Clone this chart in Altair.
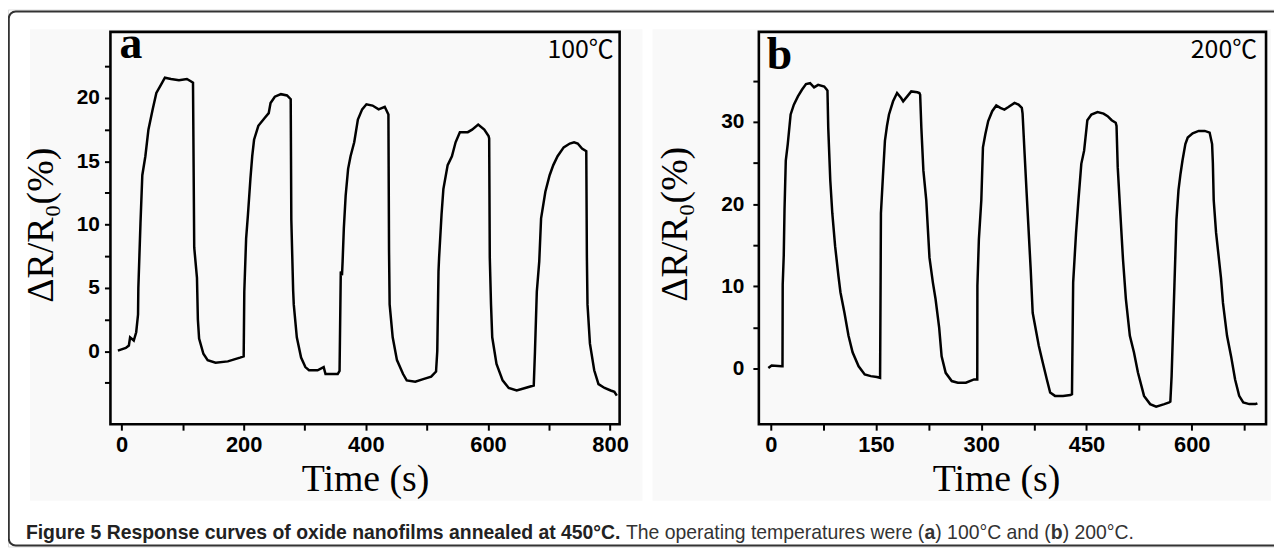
import altair as alt
import pandas as pd

# ---------------- data ----------------
# Panel a (100 C): time (s) and response (%)
a_time = [-6, 0, 7, 12, 14, 20, 24, 27, 27.5, 31, 34, 39, 44, 51, 57, 64, 71, 81, 94, 107, 114, 117,
          119, 123.5, 125, 127, 134, 141, 154, 174, 194, 200,
          201, 204, 207, 211, 214, 217, 224, 234, 241, 244, 251, 261, 271, 277,
          278, 281, 282, 287, 294, 301, 307, 321, 331, 334, 341, 354, 357,
          359, 361, 362, 364, 367, 371, 375, 381, 387, 394, 401, 411, 421, 431, 437,
          438, 439, 444, 451, 461, 467, 481, 494, 507, 515,
          517, 519, 520, 524, 527, 534, 541, 547, 554, 567, 574, 584, 594, 601, 602,
          603, 605, 607, 614, 624, 634, 647, 661, 675,
          677, 680, 684, 687, 694, 701, 707, 714, 724, 734, 741, 747, 754, 761,
          762, 763, 767, 774, 781, 791, 801, 807, 811]
a_resp = [0.05, 0.15, 0.26, 0.45, 1.1, 0.85, 1.5, 2.9, 5.0, 10.1, 13.9, 15.4, 17.5, 19.1, 20.4, 21.0, 21.6, 21.5, 21.4, 21.5, 21.3, 21.2,
          8.2, 5.8, 2.5, 1.0, -0.2, -0.7, -0.9, -0.8, -0.5, -0.4,
          4.7, 8.9, 10.8, 13.6, 15.4, 16.7, 17.8, 18.4, 18.8, 19.6, 20.1, 20.3, 20.2, 19.9,
          10.4, 4.8, 3.7, 1.1, -0.5, -1.25, -1.5, -1.5, -1.25, -1.8, -1.8, -1.8, -1.55,
          6.3, 6.0, 7.1, 9.7, 12.3, 14.4, 15.4, 16.5, 18.3, 19.1, 19.5, 19.4, 19.1, 19.3, 18.7,
          8.0, 3.7, 1.1, -0.7, -1.8, -2.3, -2.4, -2.2, -2.0, -1.6,
          0.0, 6.3, 7.4, 10.8, 12.8, 14.7, 15.4, 16.5, 17.3, 17.3, 17.5, 17.9, 17.5, 17.0, 16.8,
          7.4, 3.7, 1.1, -1.0, -2.3, -2.9, -3.1, -2.9, -2.7,
          0.0, 4.7, 7.1, 10.5, 12.6, 13.9, 14.7, 15.4, 16.1, 16.4, 16.5, 16.4, 16.0, 15.8,
          7.4, 3.7, 0.6, -1.5, -2.6, -2.9, -3.1, -3.2, -3.5]

# Panel b (200 C)
b_time = [-3.5, 1.2, 15.6, 16.7, 17.0, 18.5, 19.6, 21.4, 24.2, 28.3, 32.9, 38.7, 44.4, 50.2, 56.0, 61.7, 67.5, 76.2, 79.1, 80.8,
          81.9, 84.8, 87.7, 91.7, 96.4, 99.3, 105.0, 110.8, 116.6, 125.2, 133.9, 142.5, 151.2, 155.8,
          156.5, 157.0, 159.8, 162.7, 165.6, 168.5, 174.3, 180.0, 185.8, 188.7, 194.5, 200.2, 208.9, 211.8, 212.9,
          214.6, 217.5, 221.6, 226.2, 231.0, 234.8, 240.0, 243.5, 249.3, 257.9, 266.6, 278.1, 289.7, 294.3,
          294.5, 296.6, 300.1, 302.4, 305.8, 309.9, 315.6, 321.4, 327.2, 333.0, 338.7, 347.4, 353.1, 357.8, 358.9,
          361.8, 364.7, 370.5, 373.3, 382.0, 387.8, 393.5, 398.2, 405.1, 416.6, 427.0, 429.3,
          429.6, 431.0, 435.1, 438.5, 442.6, 446.6, 450.1, 451.2, 457.0, 465.7, 474.3, 480.1, 485.9, 491.6, 492.8,
          494.5, 497.4, 502.0, 506.1, 511.8, 517.6, 523.4, 532.0, 540.7, 549.3, 560.9, 567.8, 569.5,
          571.3, 575.3, 578.2, 581.1, 584.0, 586.8, 590.9, 594.3, 601.3, 609.9, 618.6, 625.5, 629.0,
          630.1, 631.3, 634.7, 638.8, 641.7, 644.5, 650.3, 656.1, 661.8, 667.6, 673.4, 682.0, 690.7, 693.6]
b_resp = [0.1, 0.4, 0.3, 0.3, 10.2, 13.8, 19.4, 25.3, 27.3, 30.9, 32.1, 33.1, 33.9, 34.6, 34.7, 34.2, 34.5, 34.3, 34.0, 33.8,
          29.3, 22.9, 18.9, 14.9, 11.3, 9.3, 6.8, 4.0, 2.0, 0.3, -0.7, -0.9, -1.0, -1.1,
          10.1, 18.9, 23.3, 27.7, 29.5, 30.9, 32.5, 33.5, 32.9, 32.5, 33.1, 33.7, 33.6, 33.5, 33.3,
          29.3, 24.1, 20.5, 13.5, 10.5, 8.5, 5.0, 1.5, -0.5, -1.5, -1.7, -1.7, -1.3, -1.3,
          10.1, 15.7, 20.5, 26.9, 28.5, 30.1, 31.3, 32.0, 31.7, 31.5, 31.8, 32.3, 32.1, 31.7, 31.0,
          26.1, 21.3, 12.0, 6.8, 2.8, 0.7, -1.3, -2.9, -3.3, -3.3, -3.2, -3.1,
          -0.5, 10.5, 16.5, 20.5, 24.9, 26.5, 29.3, 30.2, 30.9, 31.2, 31.0, 30.7, 30.2, 29.9, 29.5,
          24.5, 20.1, 13.3, 8.5, 4.0, 2.0, -0.5, -3.3, -4.3, -4.6, -4.3, -4.1, -4.0,
          -0.9, 10.1, 18.1, 21.7, 23.7, 25.3, 27.3, 28.1, 28.6, 28.9, 28.9, 28.7, 27.3,
          25.0, 20.5, 16.5, 13.3, 11.0, 8.0, 4.0, 1.5, -1.3, -3.3, -4.1, -4.3, -4.3, -4.2]

assert len(a_time) == len(a_resp)
assert len(b_time) == len(b_resp)

# axis ticks (minor ticks carry no label)
a_xticks = [0, 100, 200, 300, 400, 500, 600, 700, 800]
a_yticks = [-2.5, 0, 2.5, 5, 7.5, 10, 12.5, 15, 17.5, 20, 22.5]
b_xticks = [0, 75, 150, 225, 300, 375, 450, 525, 600, 675]
b_yticks = [0, 5, 10, 15, 20, 25, 30, 35]

a_xdomain = [-18.2, 815.6]
a_ydomain = [-5.76, 25.22]
b_xdomain = [-17.0, 705.9]
b_ydomain = [-6.74, 40.94]

# texts
panel_letters = ["a", "b"]
temps = ["100℃", "200℃"]
x_title = "Time (s)"
y_title = "ΔR/R₀(%)"
cap_bold = "Figure 5 Response curves of oxide nanofilms annealed at 450°C."
cap_parts = ["The operating temperatures were (", "a", ") 100°C and (", "b", ") 200°C."]

# ---------------- layout (pixels inside the svg) ----------------
W, H = 1273, 540
A_X = [103, 615]
B_X = [755, 1265]
P_Y = [417, 22.5]

one = pd.DataFrame({"k": [0]})


def box(x1, x2, y1, y2, **kw):
    return alt.Chart(one).mark_rect(**kw).encode(
        x=alt.value(x1), x2=alt.value(x2), y=alt.value(y1), y2=alt.value(y2))


def label(txt, x, y, **kw):
    return alt.Chart(one).mark_text(**kw).encode(
        x=alt.value(x), y=alt.value(y), text=alt.value(txt))


def axis(orient, offset, values, step, pad, size):
    return alt.Axis(orient=orient, offset=offset, values=values, zindex=2,
                    labelExpr=f"datum.value % {step} === 0 ? datum.label : ''",
                    tickSize=6, tickWidth=2, tickColor="black", domain=False, grid=False,
                    labelFont="Liberation Sans", labelFontWeight="bold", labelFontSize=size,
                    labelColor="black", labelPadding=pad, labelFlush=False, labelOverlap=False,
                    title="")


def panel_line(times, resp, xdom, ydom, xr, xticks, xstep, yticks, ystep, ypad):
    df = pd.DataFrame({"t": times, "v": resp, "i": range(len(times))})
    return alt.Chart(df).mark_line(color="black", strokeWidth=2.5).encode(
        x=alt.X("t:Q", scale=alt.Scale(domain=xdom, range=xr, nice=False, zero=False),
                axis=axis("bottom", P_Y[0] - H, xticks, xstep, 4, 22)),
        y=alt.Y("v:Q", scale=alt.Scale(domain=ydom, range=P_Y, nice=False, zero=False),
                axis=axis("left", -xr[0], yticks, ystep, ypad, 21)),
        order="i:Q",
    )


bgs = [box(22, 638, 20, 494, fill="#f9f9f9"), box(648, 1270, 20, 494, fill="#f9f9f9")]
frames = [box(A_X[0], A_X[1], P_Y[1], P_Y[0], fillOpacity=0, stroke="black", strokeWidth=2.6),
          box(B_X[0], B_X[1], P_Y[1], P_Y[0], fillOpacity=0, stroke="black", strokeWidth=2.6)]

line_a = panel_line(a_time, a_resp, a_xdomain, a_ydomain, A_X, a_xticks, 200, a_yticks, 5, 5)
line_b = panel_line(b_time, b_resp, b_xdomain, b_ydomain, B_X, b_xticks, 150, b_yticks, 10, 9)

serif = "Liberation Serif"
tfont = "Noto Sans CJK SC"
texts = [
    label(panel_letters[0], 112, 49, font=serif, fontWeight="bold", fontSize=46, align="left", baseline="alphabetic"),
    label(panel_letters[1], 763, 60, font=serif, fontWeight="bold", fontSize=46, align="left", baseline="alphabetic"),
    label(temps[0], 609, 49, font=tfont, fontSize=25, align="right", baseline="alphabetic"),
    label(temps[1], 1256, 49, font=tfont, fontSize=25, align="right", baseline="alphabetic"),
    label(x_title, 359.5, 484, font=serif, fontSize=38, align="center", baseline="alphabetic"),
    label(x_title, 994, 484, font=serif, fontSize=38, align="center", baseline="alphabetic"),
    label(y_title, 45, 217, font=serif, fontSize=38, align="center", baseline="alphabetic", angle=270),
    label(y_title, 683, 216, font=serif, fontSize=38, align="center", baseline="alphabetic", angle=270),
]

cap_font = "Liberation Sans"
cap_size = 19.5
cap_y = 532
cap_x = [621.4, 921.6, 932.4, 1048.6, 1060.5]
caption = [label(cap_bold, 18, cap_y, font=cap_font, fontSize=cap_size, fontWeight="bold", color="#222",
                 align="left", baseline="alphabetic")]
for txt, x in zip(cap_parts, cap_x):
    bold = txt in ("a", "b")
    caption.append(label(txt, x, cap_y, font=cap_font, fontSize=cap_size,
                         fontWeight="bold" if bold else "normal", color="#333",
                         align="left", baseline="alphabetic"))

outer = box(0.8, 1320, 2, 539, fillOpacity=0, stroke="#333", strokeWidth=2, cornerRadius=7)

chart = alt.layer(*bgs, *frames, line_a, line_b, *texts, *caption, outer).resolve_scale(
    x="independent", y="independent"
).properties(
    width=W, height=H, padding=0, autosize=alt.AutoSizeParams(type="none")
).configure_view(stroke=None).configure(background="white")

chart.save("out.html", embed_options={"renderer": "svg", "actions": False})
